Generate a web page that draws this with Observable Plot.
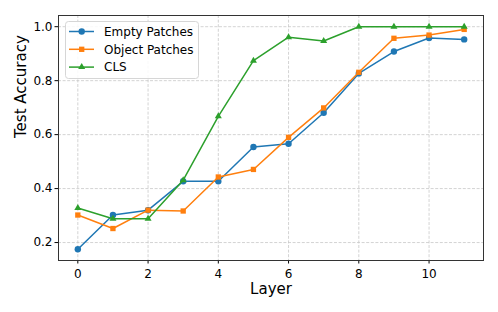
<!DOCTYPE html>
<html>
<head>
<meta charset="utf-8">
<script src="https://cdn.jsdelivr.net/npm/d3@7"></script>
<script src="https://cdn.jsdelivr.net/npm/@observablehq/plot@0.6"></script>
<style>
  html, body { margin: 0; padding: 0; background: white; }
  #chart { width: 498px; height: 312px; }
</style>
</head>
<body>
<div id="chart"></div>
<script>
const layers = [0, 1, 2, 3, 4, 5, 6, 7, 8, 9, 10, 11];
const emptyPatches  = [0.175, 0.302, 0.320, 0.427, 0.427, 0.554, 0.566, 0.681, 0.827, 0.908, 0.958, 0.953];
const objectPatches = [0.302, 0.252, 0.320, 0.317, 0.443, 0.471, 0.590, 0.699, 0.831, 0.957, 0.969, 0.990];
const clsToken      = [0.328, 0.288, 0.288, 0.431, 0.668, 0.874, 0.961, 0.947, 1.000, 1.000, 1.000, 1.000];
const seriesNames = ["Empty Patches", "Object Patches", "CLS"];
const seriesColors = ["#1f77b4", "#ff7f0e", "#2ca02c"];
const seriesSymbols = ["circle", "square", "triangle"];
const seriesR = [3.2, 3.0, 2.6];
const xTicks = [0, 2, 4, 6, 8, 10];
const yTicks = [0.2, 0.4, 0.6, 0.8, 1.0];

const allSeries = [emptyPatches, objectPatches, clsToken];
const rows = allSeries.map((vals, s) => layers.map((l, i) => ({layer: l, acc: vals[i], series: seriesNames[s]})));

const seriesMarks = rows.flatMap((data, s) => [
  Plot.line(data, {x: "layer", y: "acc", stroke: seriesColors[s], strokeWidth: 1.5}),
  Plot.dot(data, {x: "layer", y: "acc", fill: seriesColors[s], stroke: "none", symbol: seriesSymbols[s], r: seriesR[s]})
]);

const chart = Plot.plot({
  width: 498,
  height: 312,
  marginLeft: 58,
  marginRight: 15,
  marginTop: 15,
  marginBottom: 52,
  x: {domain: [-0.55, 11.55]},
  y: {domain: [0.1335, 1.0415]},
  style: {fontFamily: "DejaVu Sans", fontSize: "12px", background: "white", color: "black", overflow: "visible"},
  marks: [
    Plot.gridX(xTicks, {stroke: "#c8c8c8", strokeOpacity: 1, strokeWidth: 0.8, strokeDasharray: "3,1.6"}),
    Plot.gridY(yTicks, {stroke: "#c8c8c8", strokeOpacity: 1, strokeWidth: 0.8, strokeDasharray: "3,1.6"}),
    Plot.axisX(xTicks, {tickSize: 3.5, tickPadding: 5, fontSize: 12, label: null}),
    Plot.axisY(yTicks, {tickSize: 3.5, tickPadding: 2.5, fontSize: 12, tickFormat: d3.format(".1f"), label: null}),
    ...seriesMarks,
    Plot.frame({stroke: "#333", strokeWidth: 1}),
    Plot.text(["Layer"], {frameAnchor: "bottom", dy: 33.5, fontSize: 15, fill: "black"}),
    Plot.text(["Test Accuracy"], {frameAnchor: "left", dx: -37, rotate: -90, fontSize: 15, fill: "black"})
  ]
});

document.getElementById("chart").appendChild(chart);

// Legend (matplotlib style, upper left)
const svg = d3.select(chart);
const lg = svg.append("g").attr("transform", "translate(65,21)")
  .attr("text-anchor", "start").attr("font-family", "DejaVu Sans");
lg.append("rect")
  .attr("x", 0.5).attr("y", 0.5).attr("width", 133).attr("height", 57)
  .attr("rx", 3).attr("fill", "white").attr("fill-opacity", 0.85)
  .attr("stroke", "#d6d6d6").attr("stroke-width", 1);
seriesNames.forEach((name, s) => {
  const cy = 10.5 + s * 17.8;
  const g = lg.append("g").attr("transform", `translate(0,${cy})`);
  g.append("line").attr("x1", 4).attr("x2", 29).attr("y1", 0).attr("y2", 0)
    .attr("stroke", seriesColors[s]).attr("stroke-width", 1.5);
  const sym = {circle: d3.symbolCircle, square: d3.symbolSquare, triangle: d3.symbolTriangle}[seriesSymbols[s]];
  g.append("path").attr("transform", "translate(16.7,0)")
    .attr("d", d3.symbol(sym, Math.PI * seriesR[s] * seriesR[s])())
    .attr("fill", seriesColors[s]);
  g.append("text").attr("x", 39).attr("y", 0).attr("dy", "0.35em")
    .attr("text-anchor", "start")
    .attr("font-size", 12).attr("fill", "black").text(name);
});
</script>
</body>
</html>
